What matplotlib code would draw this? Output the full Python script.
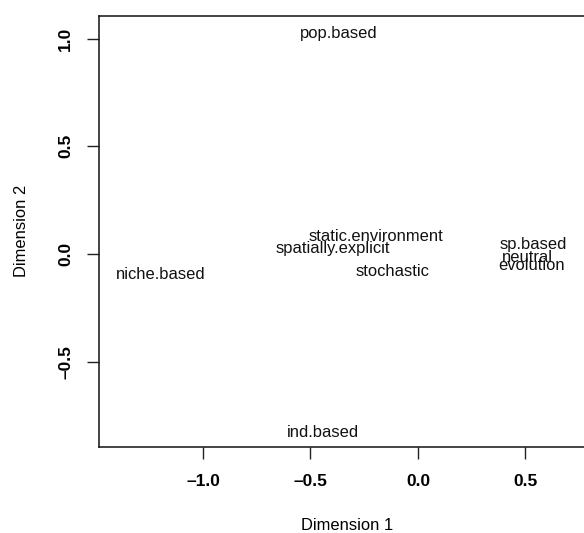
import matplotlib
matplotlib.use("Agg")
import matplotlib.pyplot as plt

# MDS ordination of model attributes
labels = ["pop.based", "ind.based", "niche.based", "static.environment",
          "spatially.explicit", "stochastic", "sp.based", "neutral", "evolution"]
dim1 = [-0.367, -0.44, -1.195, -0.195, -0.394, -0.119, 0.536, 0.511, 0.530]
dim2 = [1.025, -0.826, -0.097, 0.0835, 0.026, -0.079, 0.045, -0.015, -0.051]

xticks = [-1.0, -0.5, 0.0, 0.5]
yticks = [-0.5, 0.0, 0.5, 1.0]

plt.rcParams['font.family'] = ['Liberation Sans', 'DejaVu Sans']

def fmt(t):
    return ('%.1f' % t).replace('-', '\u2013')

W, H = 584, 533
fig = plt.figure(figsize=(W / 100, H / 100), dpi=100)
# plot box runs slightly past the right edge of the picture
left, right, top, bottom = 98.7, 594.7, 15.7, 446.7
ax = fig.add_axes([left / W, (H - bottom) / H, (right - left) / W, (bottom - top) / H])

for lab, x, y in zip(labels, dim1, dim2):
    ax.text(x, y, lab, ha='center', va='center', fontsize=11.9, color='#111111')

ax.set_xlim(-1.485, 0.822)
ax.set_ylim(-0.894, 1.106)
ax.set_xticks(xticks)
ax.set_yticks(yticks)
ax.set_xticklabels([fmt(t) for t in xticks], fontweight='bold', fontsize=12.5)
ax.set_yticklabels([fmt(t) for t in yticks], fontweight='bold', fontsize=12.5,
                   rotation=90, va='center')
ax.tick_params(length=8.5, width=1.0, color='#222222')
ax.tick_params(axis='x', pad=11)
ax.tick_params(axis='y', pad=10)
for s in ax.spines.values():
    s.set_linewidth(1.1)
    s.set_color('#111111')

ax.set_xlabel('Dimension 1', fontsize=11.9)
ax.set_ylabel('Dimension 2', fontsize=11.9)
ax.xaxis.label.set_va('center')
ax.yaxis.label.set_va('center')
ax.xaxis.set_label_coords(0.5, -(525 - bottom) / (bottom - top), transform=ax.transAxes)
ax.yaxis.set_label_coords(-(left - 21.5) / (right - left), 0.5, transform=ax.transAxes)

fig.savefig('out.png', dpi=100)
